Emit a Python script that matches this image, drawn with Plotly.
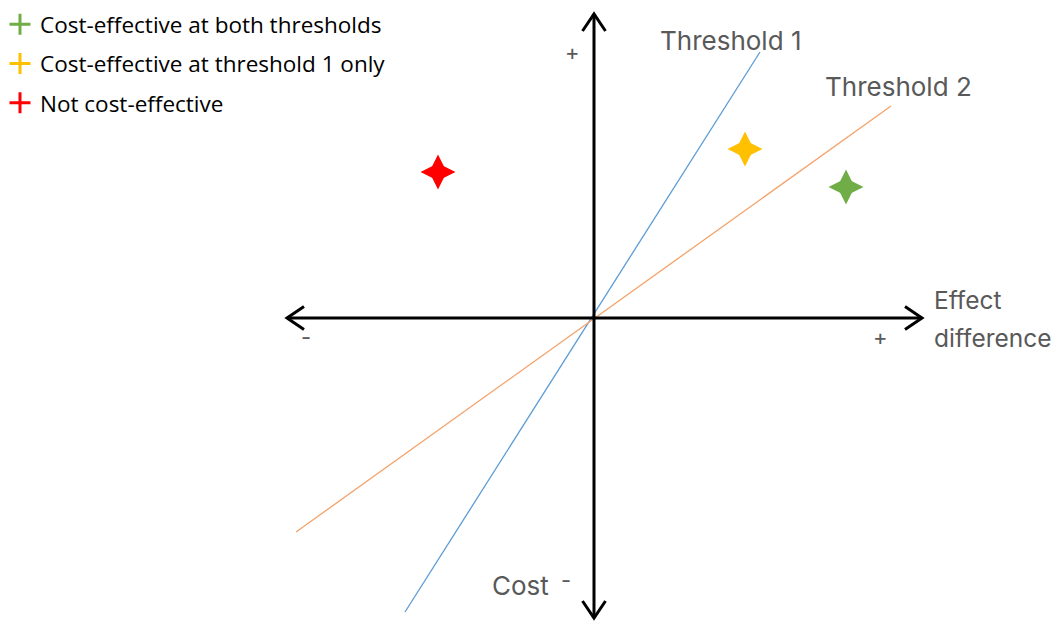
import plotly.graph_objects as go

# points on the cost-effectiveness plane (effect difference, cost difference)
point_names = ["Cost-effective at both thresholds", "Cost-effective at threshold 1 only", "Not cost-effective"]
point_effect = [2.52, 1.51, -1.56]
point_cost = [1.31, 1.69, 1.46]
point_colors = ["#70AD47", "#FFC000", "#FF0000"]

# threshold lines through the origin (end points)
t1_effect = [-1.89, 1.66]
t1_cost = [-2.94, 2.66]
t2_effect = [-2.98, 2.97]
t2_cost = [-2.14, 2.12]

# axis extents
x_axis_ends = [-3.07, 3.28]
y_axis_ends = [-3.00, 3.04]

fig = go.Figure()

fig.add_trace(go.Scatter(x=t1_effect, y=t1_cost, mode="lines", line=dict(color="#5B9BD5", width=1.3),
                         showlegend=False, hoverinfo="skip"))
fig.add_trace(go.Scatter(x=t2_effect, y=t2_cost, mode="lines", line=dict(color="#F4A26A", width=1.3),
                         showlegend=False, hoverinfo="skip"))

# axes with open arrow heads
ax_style = dict(color="black", width=3)
fig.add_trace(go.Scatter(x=x_axis_ends, y=[0, 0], mode="lines", line=ax_style, showlegend=False, hoverinfo="skip"))
fig.add_trace(go.Scatter(x=[0, 0], y=y_axis_ends, mode="lines", line=ax_style, showlegend=False, hoverinfo="skip"))
al, aw = 0.17, 0.115
xl, xr = x_axis_ends
yb, yt = y_axis_ends
for cx, cy in [([xr - al, xr, xr - al], [aw, 0, -aw]),
               ([xl + al, xl, xl + al], [aw, 0, -aw]),
               ([-aw, 0, aw], [yt - al, yt, yt - al]),
               ([-aw, 0, aw], [yb + al, yb, yb + al])]:
    fig.add_trace(go.Scatter(x=cx, y=cy, mode="lines", line=ax_style, showlegend=False, hoverinfo="skip"))

# four-pointed stars: a tall and a wide diamond on top of each other
for sym in ["diamond-tall", "diamond-wide"]:
    fig.add_trace(go.Scatter(x=point_effect, y=point_cost, mode="markers", showlegend=False,
                             marker=dict(symbol=sym, size=25, color=point_colors, line_width=0)))

# legend entries
for name, col in zip(point_names, point_colors):
    fig.add_trace(go.Scatter(x=[None], y=[None], mode="markers", name=name, legendgroup=name,
                             marker=dict(symbol="cross-thin-open", size=15, color=col,
                                         line=dict(color=col, width=3))))

grey = "#595959"
lab = dict(family="Inter, Roboto, sans-serif", size=26, color=grey)
lab_small = dict(lab, size=24.5)
fig.add_annotation(x=0.64, y=2.78, text="Threshold 1", showarrow=False, xanchor="left", font=lab)
fig.add_annotation(x=2.29, y=2.32, text="Threshold 2", showarrow=False, xanchor="left", font=lab)
fig.add_annotation(x=3.38, y=0.18, text="Effect", showarrow=False, xanchor="left", font=lab_small)
fig.add_annotation(x=3.38, y=-0.20, text="difference", showarrow=False, xanchor="left", font=lab_small)
fig.add_annotation(x=-0.74, y=-2.67, text="Cost", showarrow=False, font=lab)
for tx, ty, t in [(-0.22, 2.66, "+"), (2.86, -0.19, "+"), (-2.88, -0.19, "-"), (-0.28, -2.62, "-")]:
    fig.add_annotation(x=tx, y=ty, text=t, showarrow=False, font=dict(family="Inter, Roboto, sans-serif",
                                                                      size=22, color=grey))

fig.update_layout(
    width=1054, height=613, autosize=False,
    margin=dict(l=0, r=0, t=0, b=0, autoexpand=False),
    plot_bgcolor="white", paper_bgcolor="white",
    xaxis=dict(range=[-5.86, 4.68], visible=False, fixedrange=True),
    yaxis=dict(range=[-3.03, 3.10], visible=False, fixedrange=True),
    showlegend=True,
    legend=dict(x=-0.0076, y=1.008, xanchor="left", yanchor="top", traceorder="grouped", tracegroupgap=7,
                font=dict(family="Open Sans, sans-serif", size=22.5, color="black"),
                bgcolor="rgba(0,0,0,0)"),
)

fig.write_html("out.html")
